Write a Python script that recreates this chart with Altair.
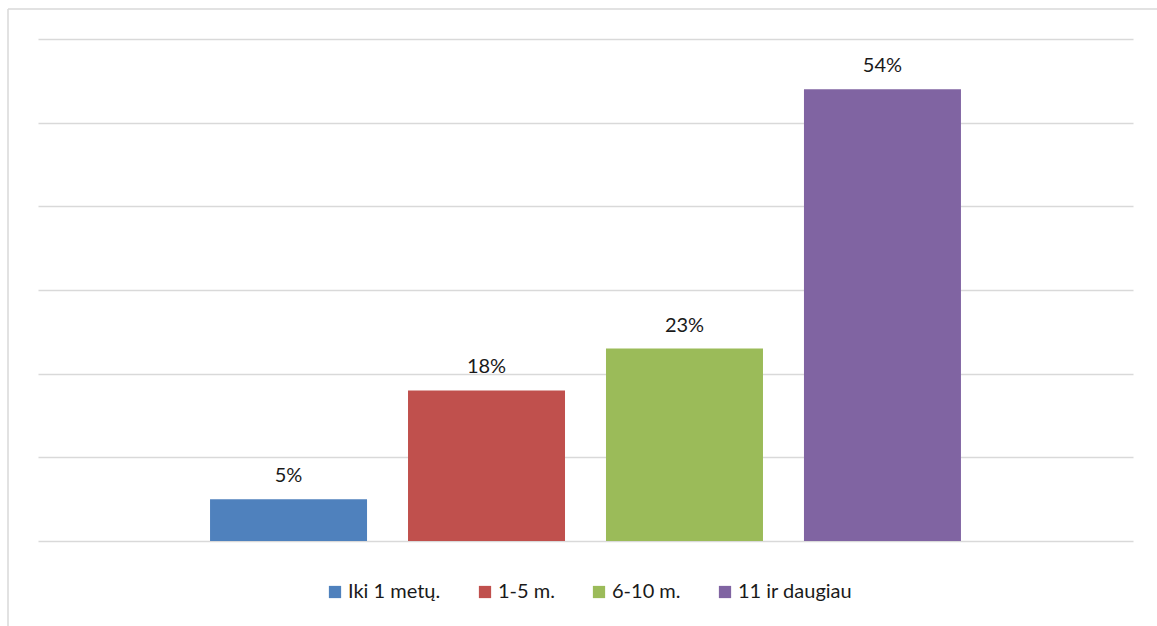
import altair as alt
import pandas as pd

categories = ["Iki 1 metų.", "1-5 m.", "6-10 m.", "11 ir daugiau"]
values = [5, 18, 23, 54]
labels = ["5%", "18%", "23%", "54%"]
colors = ["#4F81BD", "#C0504D", "#9BBB59", "#8064A2"]

df = pd.DataFrame({"cat": categories, "val": values, "lab": labels})

FONT = "Lato"
x = alt.X("cat:N", sort=categories, axis=None,
          scale=alt.Scale(paddingInner=0.207, paddingOuter=0.869))
y = alt.Y("val:Q", scale=alt.Scale(domain=[0, 60], nice=False),
          axis=alt.Axis(values=[0, 10, 20, 30, 40, 50, 60], labels=False, ticks=False,
                        domain=False, title=None, grid=True, gridColor="#d9d9d9",
                        gridWidth=1.5))

bars = alt.Chart(df).mark_bar().encode(
    x=x, y=y,
    color=alt.Color("cat:N", sort=categories,
                    scale=alt.Scale(domain=categories, range=colors),
                    legend=alt.Legend(title=None, orient="none", direction="horizontal",
                                      legendX=287, legendY=543, symbolType="square",
                                      symbolSize=150, labelFontSize=20, labelFont=FONT,
                                      labelColor="#1a1a1a", columnPadding=34,
                                      labelOffset=3, symbolStrokeWidth=0))
)

text = alt.Chart(df).mark_text(baseline="alphabetic", dy=-17, fontSize=20, font=FONT,
                               color="#1a1a1a").encode(x=x, y=y, text="lab:N")

border_df = pd.DataFrame({"a": [0]})
left_border = alt.Chart(border_df).mark_rule(color="#d9d9d9", strokeWidth=1.5).encode(
    x=alt.value(-30), y=alt.value(-30), y2=alt.value(600))
top_border = alt.Chart(border_df).mark_rule(color="#d9d9d9", strokeWidth=1.5).encode(
    x=alt.value(-30), x2=alt.value(1140), y=alt.value(-30))

chart = alt.layer(bars, text, left_border, top_border).properties(
    width=1095, height=502,
    autosize=alt.AutoSizeParams(type="none"),
    padding={"left": 38, "top": 39, "right": 24, "bottom": 85},
    background="white",
).configure_view(strokeWidth=0, stroke="transparent")

chart.save("out.html", embed_options={"renderer": "svg", "actions": False})
